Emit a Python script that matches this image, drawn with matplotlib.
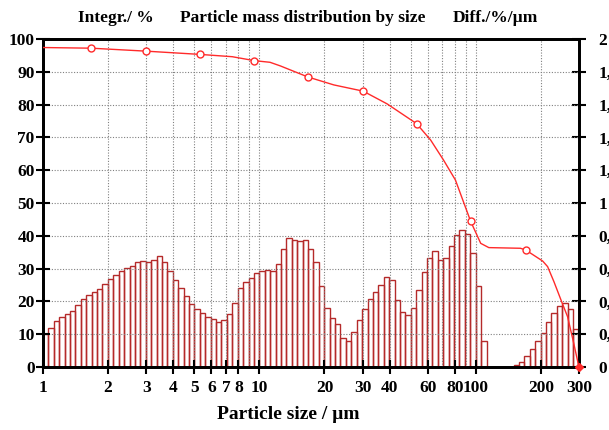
import matplotlib
matplotlib.use("Agg")
import matplotlib.pyplot as plt
import numpy as np

plt.rcParams['font.family'] = ['Liberation Serif', 'DejaVu Serif']

# differential distribution, %/um, 40 classes per decade starting at 1 um
diff = [0.204, 0.236, 0.280, 0.306, 0.326, 0.342, 0.376, 0.412, 0.442, 0.460,
        0.478, 0.504, 0.534, 0.562, 0.588, 0.602, 0.616, 0.638, 0.644, 0.638,
        0.654, 0.674, 0.642, 0.586, 0.530, 0.484, 0.434, 0.386, 0.356, 0.332,
        0.306, 0.292, 0.272, 0.286, 0.322, 0.392, 0.484, 0.516, 0.540, 0.576,
        0.588, 0.592, 0.584, 0.628, 0.718, 0.786, 0.772, 0.766, 0.776, 0.720,
        0.638, 0.494, 0.358, 0.300, 0.264, 0.178, 0.156, 0.214, 0.286, 0.354,
        0.412, 0.456, 0.502, 0.546, 0.530, 0.408, 0.338, 0.320, 0.362, 0.472,
        0.578, 0.664, 0.706, 0.654, 0.664, 0.736, 0.802, 0.838, 0.810, 0.698,
        0.494, 0.156, 0.0, 0.0, 0.0, 0.0, 0.0, 0.012, 0.032, 0.066,
        0.108, 0.156, 0.208, 0.276, 0.330, 0.374, 0.390, 0.356, 0.230]

# cumulative curve (integr. %)
curve_size = [1.0, 1.67, 2.99, 5.33, 7.5, 9.48, 11.2, 12.5, 16.8, 22.1, 30.2, 39.0,
              53.3, 61.9, 71.0, 80.6, 94.8, 105.5, 115.0, 161.0, 170.0, 204.0,
              215.0, 230.0, 248.0, 266.0, 284.0, 300.0]
curve_val = [97.4, 97.2, 96.3, 95.3, 94.6, 93.4, 92.9, 91.8, 88.4, 86.0, 84.1, 80.2,
             74.2, 69.2, 63.1, 57.0, 44.4, 37.7, 36.4, 36.2, 35.7, 32.3,
             30.6, 26.0, 20.4, 15.3, 7.2, 0.0]
marker_size = [1.67, 2.99, 5.33, 9.48, 16.8, 30.2, 53.3, 94.8, 170.0]
marker_val = [97.2, 96.3, 95.3, 93.4, 88.4, 84.1, 74.2, 44.4, 35.7]

xticks = [1, 2, 3, 4, 5, 6, 7, 8, 10, 20, 30, 40, 60, 80, 100, 200, 300]
xgrid = [2, 3, 4, 5, 6, 7, 8, 9, 10, 20, 30, 40, 50, 60, 70, 80, 90, 100, 200]
right_labels = ["0", "0,2", "0,4", "0,6", "0,8", "1", "1,2", "1,4", "1,6", "1,8", "2"]

edges = np.logspace(0, len(diff) * 0.025, len(diff) + 1)

fig = plt.figure(figsize=(6.09, 4.30), dpi=100)
ax = fig.add_axes([0.0706, 0.1465, 0.880, 0.7628])
ax2 = ax.twinx()

ax.set_xscale('log')
ax.set_xlim(1, 300)
ax.set_ylim(0, 100)
ax2.set_ylim(0, 2)

grid_kw = dict(color='#808080', linestyle=(0, (1, 1.5)), linewidth=0.8)
for g in xgrid:
    ax.axvline(g, zorder=0, **grid_kw)
for g in range(10, 100, 10):
    ax.axhline(g, zorder=0, **grid_kw)

ax2.bar(edges[:-1], diff, width=np.diff(edges), align='edge', fill=False,
        edgecolor='#b52a2a', linewidth=1.0)

ax2.set_zorder(ax.get_zorder() - 1)
ax.patch.set_visible(False)
ax.plot(curve_size, curve_val, color='#ff2a2a', linewidth=1.0, zorder=5)
ax.plot(marker_size, marker_val, linestyle='none', marker='o', markersize=5,
        markerfacecolor='white', markeredgecolor='#ff2a2a', markeredgewidth=1.0, zorder=6)
ax.plot([300], [0], linestyle='none', marker='D', markersize=4, color='#ff2a2a',
        clip_on=False, zorder=6)

ax.xaxis.set_minor_locator(matplotlib.ticker.NullLocator())
ax.set_xticks(xticks)
ax.set_xticklabels([str(t) for t in xticks])
ax.set_yticks(range(0, 101, 10))
ax2.set_yticks(np.arange(0, 2.01, 0.2))
ax2.set_yticklabels(right_labels)

for lab in ax.get_xticklabels() + ax.get_yticklabels() + ax2.get_yticklabels():
    lab.set_fontsize(12.5)
    lab.set_fontweight('bold')

ax.tick_params(axis='x', direction='inout', length=10, width=1.5, pad=4)
ax.tick_params(axis='y', direction='inout', length=10, width=1.5, pad=1)
ax2.tick_params(axis='y', direction='inout', length=10, width=1.5, pad=9)

for a in (ax, ax2):
    for s in a.spines.values():
        s.set_linewidth(2)
        s.set_color('black')

fig.text(0.190, 0.958, "Integr./ %", ha='center', va='center', fontsize=12.5, fontweight='bold')
fig.text(0.497, 0.958, "Particle mass distribution by size", ha='center', va='center',
         fontsize=12.5, fontweight='bold')
fig.text(0.814, 0.958, "Diff./%/µm", ha='center', va='center', fontsize=12.5, fontweight='bold')
fig.text(0.473, 0.035, "Particle size / µm", ha='center', va='center', fontsize=14,
         fontweight='bold')

fig.savefig("out.png", dpi=100)
